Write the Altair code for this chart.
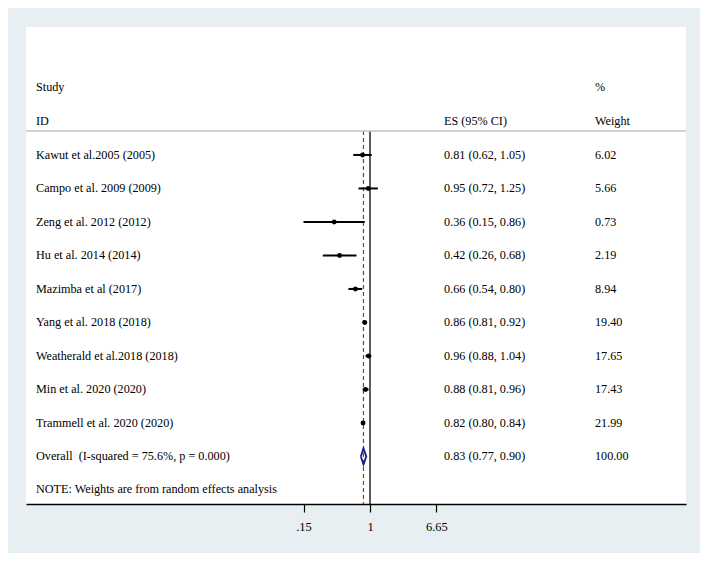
import math
import altair as alt
import pandas as pd

# ---- data ----
studies = ["Kawut et al.2005 (2005)", "Campo et al. 2009 (2009)", "Zeng et al. 2012 (2012)",
           "Hu et al. 2014 (2014)", "Mazimba et al (2017)", "Yang et al. 2018 (2018)",
           "Weatherald et al.2018 (2018)", "Min et al. 2020 (2020)", "Trammell et al. 2020 (2020)"]
es = [0.81, 0.95, 0.36, 0.42, 0.66, 0.86, 0.96, 0.88, 0.82]
lo = [0.62, 0.72, 0.15, 0.26, 0.54, 0.81, 0.88, 0.81, 0.80]
hi = [1.05, 1.25, 0.86, 0.68, 0.80, 0.92, 1.04, 0.96, 0.84]
weights = ["6.02", "5.66", "0.73", "2.19", "8.94", "19.40", "17.65", "17.43", "21.99"]
overall_label = "Overall\u00a0 (I-squared = 75.6%, p = 0.000)"
overall_es, overall_lo, overall_hi, overall_w = 0.83, 0.77, 0.90, "100.00"
note = "NOTE: Weights are from random effects analysis"
tick_vals = [0.15, 1, 6.65]
tick_labels = [".15", "1", "6.65"]

FONT = "Liberation Serif"
FS = 12.2
W, H = 660, 477
COL_NAME, COL_CI, COL_W = 10, 418, 569

n = len(studies)
ov_row = n
rows = pd.DataFrame({"row": list(range(n)), "es": es, "lo": lo, "hi": hi})
table = pd.DataFrame({
    "row": list(range(n)) + [ov_row],
    "study": studies + [overall_label],
    "ci": [f"{e:.2f} ({l:.2f}, {h:.2f})" for e, l, h in zip(es, lo, hi)]
          + [f"{overall_es:.2f} ({overall_lo:.2f}, {overall_hi:.2f})"],
    "w": weights + [overall_w],
})

xs = alt.Scale(type="log", domain=[math.exp(-9.815), math.exp(9.016)], nice=False)
ys = alt.Scale(domain=[-3.82, 10.42], reverse=True, nice=False, zero=False)

label_expr = " : ".join(
    [f"abs(datum.value - {v}) < 1e-6 ? '{t}'" for v, t in zip(tick_vals, tick_labels)]) + " : ''"

base_axis = alt.Axis(values=tick_vals, labelExpr=label_expr, grid=False, title=None,
                     domainColor="black", domainWidth=1.5, tickColor="black", tickWidth=1.2,
                     tickSize=8, labelFont=FONT, labelFontSize=12.5, labelColor="black",
                     labelPadding=8, labelFlush=False, labelOverlap=False)


def X(field):
    return alt.X(field, scale=xs, axis=base_axis, title=None)


def Y(field):
    return alt.Y(field, scale=ys, axis=None, title=None)


def txt(df, xpos, field):
    return alt.Chart(df).mark_text(align="left", baseline="middle", font=FONT, fontSize=FS,
                                   color="black").encode(x=alt.value(xpos), y=Y("row:Q"), text=f"{field}:N")


# Header rows
head1 = pd.DataFrame({"txt": ["Study"], "row": [-2.03]})
head2 = pd.DataFrame({"txt": ["ID"], "row": [-1.01]})
head3 = pd.DataFrame({"txt": ["ES (95% CI)"], "row": [-1.01]})
head4 = pd.DataFrame({"txt": ["%"], "row": [-2.03]})
head5 = pd.DataFrame({"txt": ["Weight"], "row": [-1.01]})

hline = alt.Chart(pd.DataFrame({"row": [-0.716]})).mark_rule(color="#c4c4c4", strokeWidth=1.5).encode(
    x=alt.value(0), x2=alt.value(W), y=Y("row:Q"))

null_line = alt.Chart(pd.DataFrame({"v": [1.0], "y0": [-0.716], "y1": [10.42]})).mark_rule(
    color="black", strokeWidth=1.3).encode(x=X("v:Q"), y=Y("y0:Q"), y2="y1:Q")

ov_line = alt.Chart(pd.DataFrame({"v": [overall_es], "y0": [-0.716], "y1": [10.42]})).mark_rule(
    color="#a52a2a", strokeWidth=1.2, strokeDash=[4, 3]).encode(
    x=X("v:Q"), y=Y("y0:Q"), y2="y1:Q")

ci = alt.Chart(rows).mark_rule(color="black", strokeWidth=2).encode(
    x=X("lo:Q"), x2="hi:Q", y=Y("row:Q"))
dots = alt.Chart(rows).mark_point(filled=True, color="black", size=24, opacity=1).encode(
    x=X("es:Q"), y=Y("row:Q"))

dh = 0.24
diamond = pd.DataFrame({
    "x": [overall_lo, overall_es, overall_hi, overall_es, overall_lo],
    "row": [ov_row, ov_row - dh, ov_row, ov_row + dh, ov_row],
    "o": [0, 1, 2, 3, 4]})
dia = alt.Chart(diamond).mark_line(color="#1a1a8c", strokeWidth=1.8).encode(
    x=X("x:Q"), y=Y("row:Q"), order="o:Q")

names = txt(table, COL_NAME, "study")
cis = txt(table, COL_CI, "ci")
ws = txt(table, COL_W, "w")
note_t = txt(pd.DataFrame({"t": [note], "row": [9.97]}), COL_NAME, "t")
h1 = txt(head1, COL_NAME, "txt")
h2 = txt(head2, COL_NAME, "txt")
h3 = txt(head3, COL_CI, "txt")
h4 = txt(head4, COL_W, "txt")
h5 = txt(head5, COL_W, "txt")

chart = alt.layer(null_line, ov_line, hline, ci, dots, dia, names, cis, ws, note_t,
                  h1, h2, h3, h4, h5).properties(
    width=W, height=H,
    autosize=alt.AutoSizeParams(type="none"),
    padding={"left": 18, "top": 19, "right": 14, "bottom": 49},
    background="#e8eff2",
).configure_view(fill="white", stroke=None)

chart.save("out.html", embed_options={"renderer": "svg", "actions": False})
